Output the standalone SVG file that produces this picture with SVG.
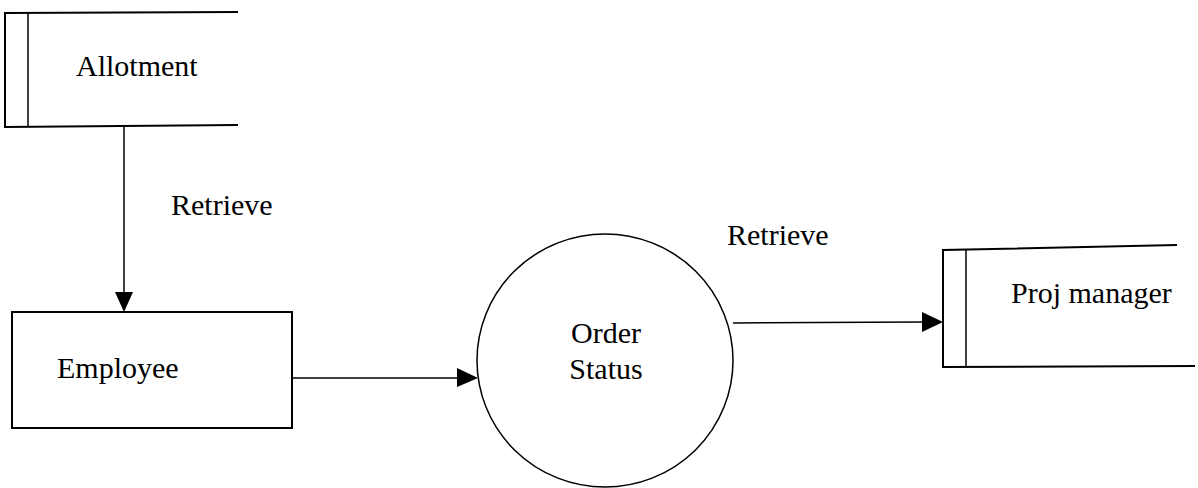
<svg xmlns="http://www.w3.org/2000/svg" width="1198" height="488" viewBox="0 0 1198 488">
<style>
.ln{stroke:#000;stroke-width:2;fill:none}
.thin{stroke:#000;stroke-width:1.5;fill:none}
.t{font-family:"Liberation Serif","Times New Roman",serif;font-size:30px;fill:#000}
.ah{fill:#000}
</style>
<rect width="1198" height="488" fill="#fff"/>
<g id="allotment">
<path class="ln" d="M238 12 L5 13 L5 127 L238 125"/>
<line class="thin" x1="28" y1="13" x2="28" y2="126"/>
<text class="t" x="76" y="76">Allotment</text>
</g>
<g id="employee">
<rect class="ln" x="12" y="312" width="280" height="116"/>
<text class="t" x="57" y="378">Employee</text>
</g>
<g id="order-status">
<ellipse class="thin" cx="605" cy="360.5" rx="128" ry="126.5"/>
<text class="t" x="606" y="343" text-anchor="middle">Order</text>
<text class="t" x="606" y="379" text-anchor="middle">Status</text>
</g>
<g id="proj-manager">
<path class="ln" d="M1177 245 L943 250 L943 367 L1195 366"/>
<line class="thin" x1="966" y1="250" x2="966" y2="367"/>
<text class="t" x="1011" y="303">Proj manager</text>
</g>
<g id="connectors">
<line class="thin" x1="124" y1="126" x2="124" y2="294"/>
<polygon class="ah" points="115,292 133,292 124,312"/>
<text class="t" x="171" y="215">Retrieve</text>
<line class="thin" x1="292" y1="378" x2="460" y2="378"/>
<polygon class="ah" points="457,368 457,387 478,378"/>
<line class="thin" x1="733" y1="323" x2="924" y2="322"/>
<polygon class="ah" points="922,312 922,332 943,322"/>
<text class="t" x="727" y="245">Retrieve</text>
</g>
</svg>
